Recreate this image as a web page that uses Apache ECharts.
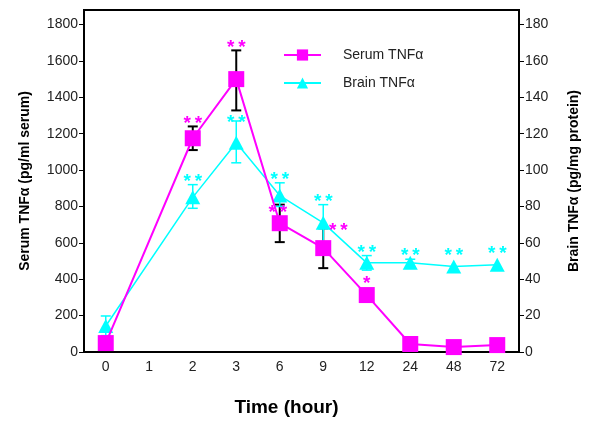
<!DOCTYPE html>
<html><head><meta charset="utf-8">
<script src="https://cdn.jsdelivr.net/npm/echarts@6/dist/echarts.min.js"></script>
<style>html,body{margin:0;padding:0;background:#fff}#c{width:600px;height:422px}</style>
</head><body><div id="c"></div>
<script>
const categories = ['0','1','2','3','6','9','12','24','48','72'];
const serumMean = [49, null, 1175, 1500, 708, 571, 313, 44, 27, 38];
const serumLow  = [null, null, 1110, 1328, 604, 461, null, null, null, null];
const serumHigh = [null, null, 1240, 1658, 810, 680, null, null, null, null];
const brainMean = [14.3, null, 85, 115, 86, 71, 49, 49, 47, 48];
const brainLow  = [9, null, 79, 104, 80, 60, 45, 46, null, null];
const brainHigh = [19.8, null, 92, 127, 93, 81, 53, 51, null, null];
const serumSig = ['', '', '**', '**', '**', '**', '*', '', '', ''];
const brainSig = ['', '', '**', '**', '**', '**', '**', '**', '**', '**'];
const leftTicks = [0, 200, 400, 600, 800, 1000, 1200, 1400, 1600, 1800];
const rightTicks = [0, 20, 40, 60, 80, 100, 120, 140, 160, 180];

const FONT = 'Liberation Sans, Arial, sans-serif';
const MAG = '#FF00FF', CYAN = '#00FFFF';

function errData(low, high) {
  const d = [];
  for (let i = 0; i < low.length; i++) if (low[i] != null && high[i] != null) d.push([i, low[i], high[i]]);
  return d;
}
function errRender(color, width) {
  return function (params, api) {
    const i = api.value(0);
    const lo = api.coord([i, api.value(1)]);
    const hi = api.coord([i, api.value(2)]);
    const hw = 5;
    const st = {stroke: color, lineWidth: width};
    return {type: 'group', children: [
      {type: 'line', shape: {x1: lo[0], y1: lo[1], x2: hi[0], y2: hi[1]}, style: st},
      {type: 'line', shape: {x1: lo[0] - hw, y1: lo[1], x2: lo[0] + hw, y2: lo[1]}, style: st},
      {type: 'line', shape: {x1: hi[0] - hw, y1: hi[1], x2: hi[0] + hw, y2: hi[1]}, style: st}
    ]};
  };
}
function starData(sig, mean, high) {
  const d = [];
  for (let i = 0; i < sig.length; i++) if (sig[i]) d.push([i, high[i] != null ? high[i] : mean[i], high[i] != null ? 0 : 1]);
  return d;
}
function starRender(sig, color, shift) {
  return function (params, api) {
    const i = api.value(0);
    const p = api.coord([i, api.value(1)]);
    const s = shift[i] || [0, 0];
    const extra = api.value(2) ? 8 : 0;
    return {type: 'text', x: p[0] + s[0], y: p[1] - 3 - extra + s[1],
      style: {text: sig[i].split('').join('\u2009'), fill: color, font: 'bold 19px ' + FONT, align: 'center', verticalAlign: 'middle'}};
  };
}
const serumShift = {4: [-2, 11], 5: [15, 5]};
const brainShift = {3: [0, 5]};

const chart = echarts.init(document.getElementById('c'), null, {renderer: 'canvas'});
chart.setOption({
  animation: false,
  textStyle: {fontFamily: FONT},
  grid: {left: 84, right: 81, top: 10, bottom: 69, show: true, borderColor: '#000', borderWidth: 2, backgroundColor: 'transparent'},
  legend: {
    orient: 'vertical', left: 278, top: 43, itemWidth: 37, itemHeight: 14, itemGap: 14,
    textStyle: {fontSize: 14, color: '#222', fontFamily: FONT, padding: [0, 0, 0, 17]},
    data: ['Serum TNFα', 'Brain TNFα']
  },
  xAxis: {
    type: 'category', data: categories, boundaryGap: true,
    name: 'Time (hour)', nameLocation: 'middle', nameGap: 46,
    nameTextStyle: {fontSize: 19, fontWeight: 'bold', color: '#000', padding: [0, 30, 0, 0]},
    axisLine: {lineStyle: {color: '#000', width: 2}},
    axisTick: {inside: true, length: 4, lineStyle: {color: '#000', width: 1}},
    axisLabel: {fontSize: 14, color: '#222', margin: 8},
    splitLine: {show: false}
  },
  yAxis: [{
    type: 'value', min: 0, max: 1880, interval: 200,
    name: 'Serum TNFα (pg/ml serum)', nameLocation: 'middle', nameGap: 52,
    nameTextStyle: {fontSize: 14, fontWeight: 'bold', color: '#000'},
    axisLine: {show: true, lineStyle: {color: '#000', width: 2}},
    axisTick: {show: true, length: 5, customValues: leftTicks, lineStyle: {color: '#000'}},
    axisLabel: {fontSize: 14, color: '#222', margin: 6, customValues: leftTicks, formatter: v => String(v)},
    splitLine: {show: false}
  }, {
    type: 'value', min: 0, max: 188, interval: 20, position: 'right',
    name: 'Brain TNFα (pg/mg protein)', nameLocation: 'middle', nameGap: 48,
    nameTextStyle: {fontSize: 14, fontWeight: 'bold', color: '#000'},
    axisLine: {show: true, lineStyle: {color: '#000', width: 2}},
    axisTick: {show: true, length: 5, customValues: rightTicks, lineStyle: {color: '#000'}},
    axisLabel: {fontSize: 14, color: '#222', margin: 6, customValues: rightTicks, formatter: v => String(v)},
    splitLine: {show: false}
  }],
  series: [
    {type: 'custom', name: 'serumErr', yAxisIndex: 0, z: 1, data: errData(serumLow, serumHigh), renderItem: errRender('#000', 2), silent: true},
    {type: 'custom', name: 'brainErr', yAxisIndex: 1, z: 1, data: errData(brainLow, brainHigh), renderItem: errRender(CYAN, 1.5), silent: true},
    {type: 'line', name: 'Brain TNFα', yAxisIndex: 1, z: 3, data: brainMean, connectNulls: true,
      symbol: 'triangle', symbolSize: [15, 14], itemStyle: {color: CYAN}, lineStyle: {color: CYAN, width: 1.5}},
    {type: 'line', name: 'Serum TNFα', yAxisIndex: 0, z: 4, data: serumMean, connectNulls: true,
      symbol: 'rect', symbolSize: 16, itemStyle: {color: MAG}, lineStyle: {color: MAG, width: 2}},
    {type: 'custom', name: 'serumStars', yAxisIndex: 0, z: 5, data: starData(serumSig, serumMean, serumHigh), renderItem: starRender(serumSig, MAG, serumShift), silent: true},
    {type: 'custom', name: 'brainStars', yAxisIndex: 1, z: 5, data: starData(brainSig, brainMean, brainHigh), renderItem: starRender(brainSig, CYAN, brainShift), silent: true}
  ]
});
</script></body></html>
